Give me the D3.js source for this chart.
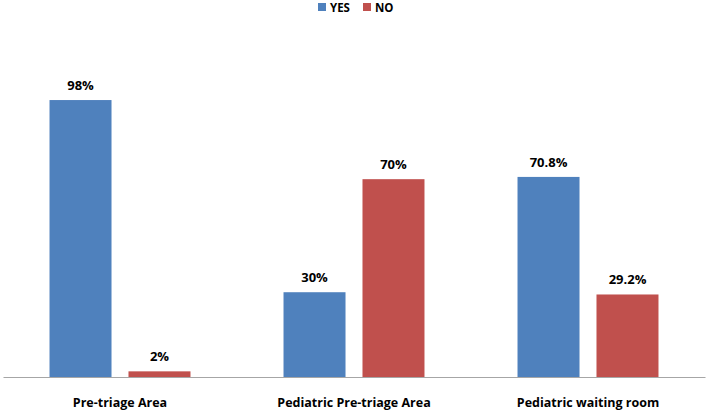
<!DOCTYPE html>
<html><head><meta charset="utf-8">
<script src="https://cdn.jsdelivr.net/npm/d3@7"></script>
<style>body{margin:0;background:#fff}svg{display:block}</style>
</head><body>
<svg id="c" width="709" height="412"></svg>
<script>
const categories = ["Pre-triage Area", "Pediatric Pre-triage Area", "Pediatric waiting room"];
const seriesNames = ["YES", "NO"];
const yesValues = [98, 30, 70.8];
const noValues = [2, 70, 29.2];
const valueLabels = [["98%", "2%"], ["30%", "70%"], ["70.8%", "29.2%"]];
const colors = ["#4F81BD", "#C0504D"];

const svg = d3.select("#c");
const font = "'Liberation Sans Narrow','Open Sans',sans-serif";
const left = 3, right = 705, base = 377;
const y = d3.scaleLinear().domain([0, 100]).range([base, base - 282.6]);
const x0 = d3.scaleBand().domain(categories).range([left, right]).paddingInner(0).paddingOuter(0);
const x1 = d3.scaleBand().domain(seriesNames).range([0, x0.bandwidth()]).paddingInner(0.215).paddingOuter(0.589);

const data = categories.map((c, i) => ({c, vals: [yesValues[i], noValues[i]], labels: valueLabels[i]}));

const g = svg.selectAll("g.grp").data(data).enter().append("g")
  .attr("transform", d => `translate(${x0(d.c)},0)`);
g.selectAll("rect").data(d => d.vals.map((v, j) => ({v, s: seriesNames[j], j, lab: d.labels[j]})))
  .enter().append("rect")
  .attr("x", d => x1(d.s)).attr("width", x1.bandwidth())
  .attr("y", d => y(d.v)).attr("height", d => base - y(d.v))
  .attr("fill", d => colors[d.j]);
g.selectAll("text").data(d => d.vals.map((v, j) => ({v, s: seriesNames[j], j, lab: d.labels[j]})))
  .enter().append("text")
  .attr("x", d => x1(d.s) + x1.bandwidth() / 2).attr("y", d => y(d.v) - 10)
  .attr("text-anchor", "middle").attr("font-family", font).attr("font-weight", "bold")
  .attr("font-size", 13).attr("fill", "#000").text(d => d.lab);

// axis
const axis = d3.axisBottom(x0).tickSize(0).tickPadding(21);
const ax = svg.append("g").attr("transform", `translate(0,${base})`).call(axis);
ax.select(".domain").attr("stroke", "#A6A6A6").attr("stroke-width", 1.2);
ax.selectAll("text").attr("font-family", font).attr("font-weight", "bold").attr("font-size", 12.5).attr("fill", "#000");

// legend
const leg = svg.append("g");
const legX = [318, 363];
seriesNames.forEach((s, i) => {
  leg.append("rect").attr("x", legX[i]).attr("y", 3).attr("width", 8).attr("height", 8).attr("fill", colors[i]);
  leg.append("text").attr("x", legX[i] + 12).attr("y", 12).attr("font-family", font).attr("font-weight", "bold")
    .attr("font-size", 11.5).attr("fill", "#000").text(s);
});
</script>
</body></html>
